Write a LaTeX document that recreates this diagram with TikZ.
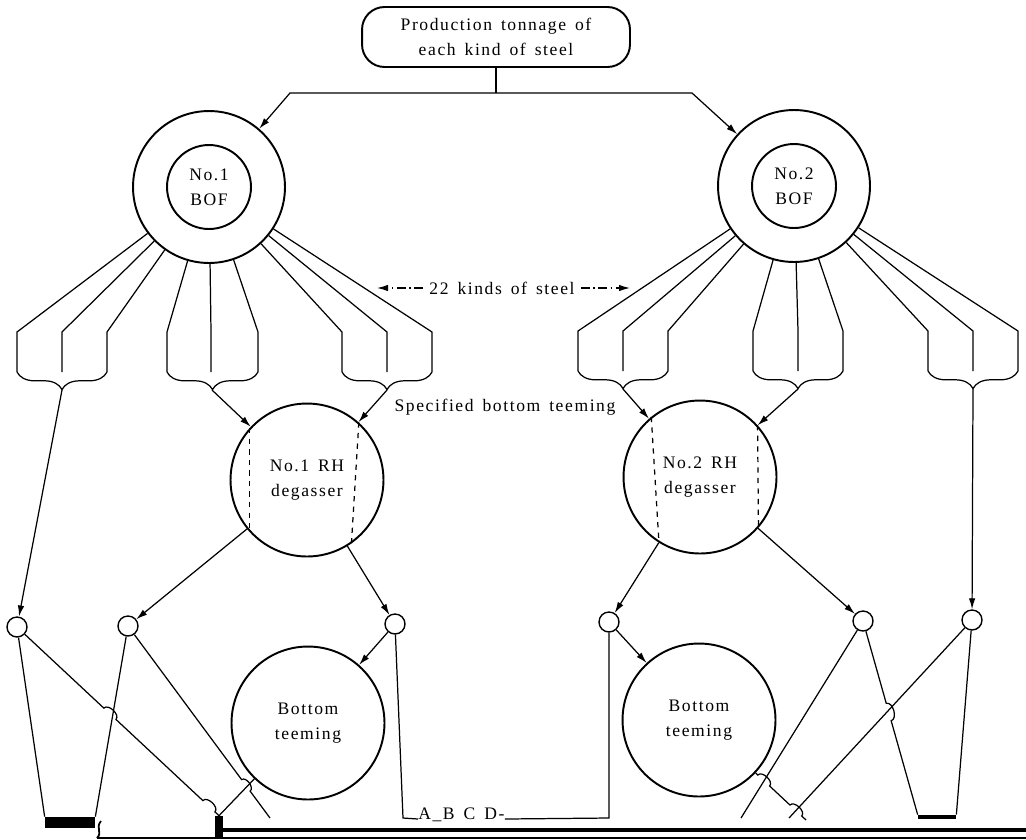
\documentclass[tikz,border=0pt]{standalone}
\usepackage{fontspec}
\setmainfont{Liberation Serif}[LetterSpace=9,WordSpace=1.5]
\usetikzlibrary{arrows.meta,calc,decorations.pathreplacing}

\begin{document}
\begin{tikzpicture}[x=0.02cm,y=-0.02cm,
  font=\fontsize{10}{14}\selectfont,
  wire/.style={line width=0.7pt},
  ring/.style={draw,circle,line width=1.1pt,minimum size=3.04cm,inner sep=0pt},
  core/.style={draw,circle,line width=1.1pt,minimum size=1.68cm,inner sep=0pt,align=center},
  unit/.style={draw,circle,line width=1.1pt,minimum size=3.06cm,inner sep=0pt,align=center},
  joint/.style={draw,circle,line width=0.8pt,minimum size=0.4cm,inner sep=0pt},
  arr/.style={wire,-{Latex[length=2.2mm,width=1.3mm]}},
  darr/.style={arr,dash pattern=on 5pt off 2pt on 1pt off 2pt},
  grp/.style={wire,decorate,decoration={brace,mirror,amplitude=10pt}},
  hop/.style={bend left=90}]

\useasboundingbox (0,0) rectangle (1026,839);

\node (top) at (496,37) [draw,line width=1.1pt,rounded corners=0.45cm,minimum width=5.36cm,minimum height=1.2cm,align=center] {Production tonnage of\\each kind of steel};

\node (bof1) at (209,187) [ring] {};
\node (bof1c) at (209,187) [core] {No.1\\BOF};
\node (bof2) at (794,186) [ring] {};
\node (bof2c) at (794,186) [core] {No.2\\BOF};

\node (rh1) at (307,480) [unit] {No.1 RH\\degasser};
\node (rh2) at (700,477) [unit] {No.2 RH\\degasser};
\node (bt1) at (308,723) [unit] {Bottom\\teeming};
\node (bt2) at (699,720) [unit] {Bottom\\teeming};

\node (s1) at (17,627) [joint] {};
\node (s2) at (128,626) [joint] {};
\node (s3) at (395,624) [joint] {};
\node (s4) at (609,622) [joint] {};
\node (s5) at (863,621) [joint] {};
\node (s6) at (972,620) [joint] {};

\node (kinds) at (502,288) {22 kinds of steel};
\node (spec) at (505,407) {Specified bottom teeming};
\node (abcd) at (418,819) [anchor=base west,inner sep=0pt] {A\_B C D-};

\node (bar1) at (70,822.5) [fill,minimum width=1cm,minimum height=0.22cm,inner sep=0pt] {};
\node (bar2) at (937,817) [fill,minimum width=0.76cm,minimum height=0.08cm,inner sep=0pt] {};
\node (stub) at (219,827) [fill,minimum width=0.16cm,minimum height=0.44cm,inner sep=0pt] {};

\coordinate (split) at (496,93);
\coordinate (t11) at (62,390);
\coordinate (t12) at (212,390);
\coordinate (t13) at (387,390);
\coordinate (t21) at (623,389);
\coordinate (t22) at (798,389);
\coordinate (t23) at (973,389);
\coordinate (q2) at (270,818);
\coordinate (q3) at (806,820);

% feed from the top box
\draw [wire] (top) -- (split);
\draw [arr] (split) -- (290,93) -- (bof1);
\draw [arr] (split) -- (692,93) -- (bof2);

% kinds of steel
\foreach \k in {17,62,107,167,211,258,342,387,432}
  \draw [wire] (bof1) -- (\k,332) -- (\k,372);
\foreach \k in {578,623,668,753,798,843,928,973,1018}
  \draw [wire] (bof2) -- (\k,331) -- (\k,371);
\foreach \a/\b in {17/107,167/258,342/432}
  \draw [grp] (\a,372) -- (\b,372);
\foreach \a/\b in {578/668,753/843,928/1018}
  \draw [grp] (\a,371) -- (\b,371);

\draw [darr] (kinds) -- (377,288);
\draw [darr] (kinds) -- (630,288);

\draw [arr] (t11) -- (s1);
\draw [arr] (t12) -- (rh1);
\draw [arr] (t13) -- (rh1);
\draw [arr] (t21) -- (rh2);
\draw [arr] (t22) -- (rh2);
\draw [arr] (t23) -- (s6);

\draw [wire,dashed] (rh1.138) -- (rh1.222);
\draw [wire,dashed] (rh1.48) -- (rh1.305);
\draw [wire,dashed] (rh2.129) -- (rh2.238);
\draw [wire,dashed] (rh2.42) -- (rh2.319);

\draw [arr] (rh1) -- (s2);
\draw [arr] (rh1) -- (s3);
\draw [arr] (s3) -- (bt1);
\draw [arr] (rh2) -- (s4);
\draw [arr] (rh2) -- (s5);
\draw [arr] (s4) -- (bt2);

% routes to the bottom
\draw [wire] (s1) -- (bar1.north west);
\draw [wire] (s2) -- (bar1.north east);
\draw [wire] (s1) -- ($(s1)!0.43!(stub.north)$) to[hop] ($(s1)!0.49!(stub.north)$) -- ($(s1)!0.92!(stub.north)$) to[hop] ($(s1)!0.98!(stub.north)$) -- (stub.north);
\draw [wire] (s2) -- ($(s2)!0.80!(q2)$) to[hop] ($(s2)!0.86!(q2)$) -- (q2);
\draw [wire] (bt1) -- (stub.north);
\draw [wire] (s3) -- (403,818) -- (abcd.base west);
\draw [wire] (abcd.base east) -- (609,818) -- (s4);

\draw [wire] (s5) -- (741,818);
\draw [wire] (s6) -- (789,818);
\draw [wire] (bt2) -- ($(bt2)!0.55!(q3)$) to[hop] ($(bt2)!0.66!(q3)$) -- ($(bt2)!0.85!(q3)$) to[hop] ($(bt2)!0.96!(q3)$) -- (q3);
\draw [wire] (s5) -- ($(s5)!0.425!(bar2.north west)$) to[hop] ($(s5)!0.515!(bar2.north west)$) -- (bar2.north west);
\draw [wire] (s6) -- (bar2.north east);

% page edge
\draw [line width=1.8pt] (218,830) -- (1026,830);
\draw [line width=1.1pt] (97,838) -- (1026,838);
\draw [line width=1pt] (101,821) .. controls (95,828) and (103,832) .. (97,838);

\end{tikzpicture}
\end{document}
